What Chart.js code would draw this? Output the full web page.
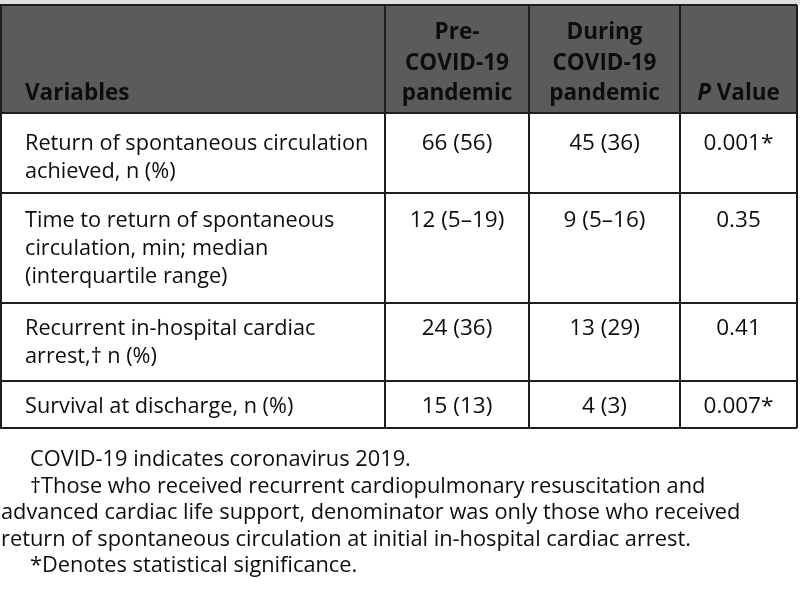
<!DOCTYPE html>
<html lang="en">
<head>
    <meta charset="UTF-8">
    <title>ROSC outcomes before and during COVID-19</title>
    <script src="https://cdn.jsdelivr.net/npm/chart.js"></script>
    <style>
body { margin: 0; background: #fff; }
#tableChart { display: block; }
    </style>
</head>
<body>
    <canvas id="tableChart" width="800" height="597"></canvas>
    <script>
// table content
const headVariables = 'Variables';
const headPre = ['Pre-', 'COVID-19', 'pandemic'];
const headDuring = ['During', 'COVID-19', 'pandemic'];
const headP = ['P', ' Value'];
const rowLabels = [
    ['Return of spontaneous circulation', 'achieved, n (%)'],
    ['Time to return of spontaneous', 'circulation, min; median', '(interquartile range)'],
    ['Recurrent in-hospital cardiac', 'arrest,\u2020 n (%)'],
    ['Survival at discharge, n (%)']
];
const preValues = ['66 (56)', '12 (5\u201319)', '24 (36)', '15 (13)'];
const duringValues = ['45 (36)', '9 (5\u201316)', '13 (29)', '4 (3)'];
const pValues = ['0.001*', '0.35', '0.41', '0.007*'];
const footnotes = [
    {text: 'COVID-19 indicates coronavirus 2019.', indent: true},
    {text: '\u2020Those who received recurrent cardiopulmonary resuscitation and', indent: true},
    {text: 'advanced cardiac life support, denominator was only those who received', indent: false},
    {text: 'return of spontaneous circulation at initial in-hospital cardiac arrest.', indent: false},
    {text: '*Denotes statistical significance.', indent: true}
];

// layout (in scale units, same as pixels here)
const colEdges = [0, 385, 529, 680, 797];
const rowEdges = [5, 113, 193, 303, 381, 428];
const rowBaselines = [150, 227, 335, 413];
const headBaseline = 100;
const headGap = 30.5;
const lineGap = 28;
const noteStart = 466;
const noteGap = 26.5;

const FONT = '"Open Sans", "Noto Sans", sans-serif';

const tablePlugin = {
    id: 'tablePlugin',
    afterDraw(chart) {
        const ctx = chart.ctx;
        const xs = chart.scales.x;
        const ys = chart.scales.y;
        const px = v => xs.getPixelForValue(v);
        const py = v => ys.getPixelForValue(v);
        ctx.save();

        // thin light band above the table
        ctx.fillStyle = '#dedede';
        ctx.fillRect(px(0), py(0), px(800) - px(0), py(rowEdges[0]) - py(0));

        // header background
        ctx.fillStyle = '#5b5b5b';
        ctx.fillRect(px(colEdges[0]), py(rowEdges[0]), px(colEdges[4]) - px(colEdges[0]), py(rowEdges[1]) - py(rowEdges[0]));

        // grid
        ctx.strokeStyle = '#1e1e1e';
        ctx.lineWidth = 2;
        ctx.beginPath();
        rowEdges.forEach(r => {
            ctx.moveTo(px(colEdges[0]), py(r));
            ctx.lineTo(px(colEdges[4]), py(r));
        });
        colEdges.forEach(c => {
            const xx = c === 0 ? px(c) + 1 : px(c);
            ctx.moveTo(xx, py(rowEdges[0]));
            ctx.lineTo(xx, py(rowEdges[rowEdges.length - 1]));
        });
        ctx.stroke();

        const center = i => (px(colEdges[i]) + px(colEdges[i + 1])) / 2;

        // header text
        ctx.fillStyle = '#0d0d0d';
        ctx.textBaseline = 'alphabetic';
        ctx.font = '700 22.5px ' + FONT;
        ctx.textAlign = 'left';
        ctx.fillText(headVariables, px(25), py(headBaseline));
        ctx.textAlign = 'center';
        [headPre, headDuring].forEach((lines, k) => {
            lines.forEach((t, i) => {
                const yy = headBaseline - (lines.length - 1 - i) * headGap;
                ctx.fillText(t, center(k + 1), py(yy));
            });
        });
        // P Value, italic P
        ctx.textAlign = 'left';
        ctx.font = 'italic 700 22.5px ' + FONT;
        const wP = ctx.measureText(headP[0]).width;
        ctx.font = '700 22.5px ' + FONT;
        const wV = ctx.measureText(headP[1]).width;
        const startP = center(3) - (wP + wV) / 2;
        ctx.font = 'italic 700 22.5px ' + FONT;
        ctx.fillText(headP[0], startP, py(headBaseline));
        ctx.font = '700 22.5px ' + FONT;
        ctx.fillText(headP[1], startP + wP, py(headBaseline));

        // body rows
        rowLabels.forEach((lines, r) => {
            ctx.font = '21.7px ' + FONT;
            ctx.textAlign = 'left';
            lines.forEach((t, i) => {
                ctx.fillText(t, px(25), py(rowBaselines[r] + i * lineGap));
            });
            ctx.font = '22.5px ' + FONT;
            ctx.textAlign = 'center';
            ctx.fillText(preValues[r], center(1), py(rowBaselines[r]));
            ctx.fillText(duringValues[r], center(2), py(rowBaselines[r]));
            ctx.fillText(pValues[r], center(3), py(rowBaselines[r]));
        });

        // footnotes
        ctx.textAlign = 'left';
        ctx.font = '21.8px ' + FONT;
        footnotes.forEach((n, i) => {
            ctx.fillText(n.text, px(n.indent ? 30 : 1), py(noteStart + i * noteGap));
        });

        ctx.restore();
    }
};

new Chart(document.getElementById('tableChart'), {
    type: 'scatter',
    data: { datasets: [{ data: [], pointRadius: 0 }] },
    options: {
        responsive: false,
        animation: false,
        layout: { padding: 0 },
        plugins: { legend: { display: false }, tooltip: { enabled: false } },
        scales: {
            x: { type: 'linear', min: 0, max: 800, display: false },
            y: { type: 'linear', min: 0, max: 597, reverse: true, display: false }
        }
    },
    plugins: [tablePlugin]
});
    </script>
</body>
</html>
